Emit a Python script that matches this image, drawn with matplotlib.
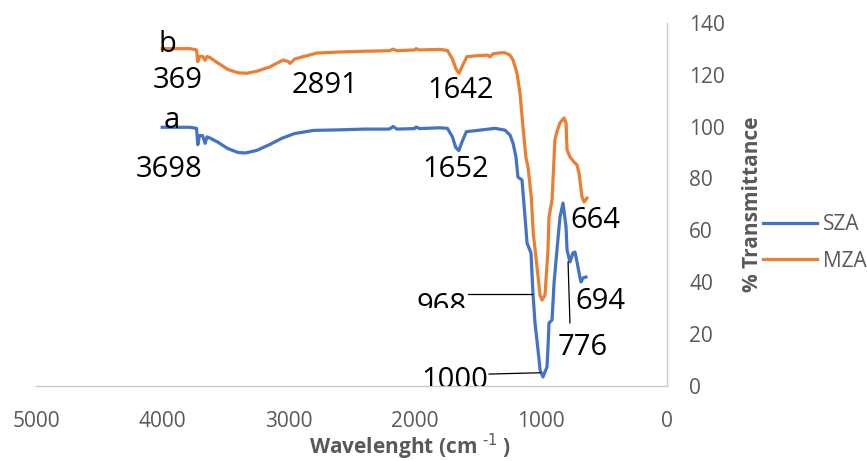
"""FTIR: SZA vs MZA, % transmittance over wavenumber (x axis reversed, y axis on the right)."""
import matplotlib
matplotlib.use("Agg")
import matplotlib.pyplot as plt
from matplotlib.patches import Rectangle

plt.rcParams["font.family"] = ["Open Sans", "DejaVu Sans"]

# --- data ------------------------------------------------------------------
sza_wn = [4000, 3780, 3728, 3718, 3705, 3680, 3660, 3645, 3620, 3560, 3480, 3400, 3340,
          3250, 3150, 3050, 2950, 2800, 2600, 2400, 2200, 2170, 2140, 2000, 1990, 1960,
          1800, 1740, 1700, 1675, 1650, 1625, 1590, 1500, 1363, 1284, 1244, 1220, 1197,
          1181, 1149, 1125, 1109, 1078, 1062, 1046, 1022, 1006, 983, 951, 943, 935, 911,
          895, 872, 848, 824, 800, 792, 769, 745, 729, 713, 689, 681, 666, 642]
sza_t = [99.7, 99.7, 99.3, 93.0, 96.5, 96.5, 93.5, 96.0, 95.5, 94.0, 91.5, 90.0, 89.8,
         90.8, 93.0, 95.5, 97.3, 98.5, 98.7, 99.0, 99.0, 100.0, 99.0, 99.2, 99.8, 99.2,
         99.5, 99.3, 96.0, 92.0, 90.7, 94.0, 98.0, 98.5, 99.3, 98.6, 96.7, 93.6, 88.3,
         80.5, 79.4, 65.1, 55.1, 51.3, 35.8, 24.3, 13.9, 6.2, 3.5, 7.3, 15.0, 24.3, 25.4,
         39.7, 52.4, 65.1, 70.5, 61.3, 52.4, 47.8, 51.3, 51.6, 47.8, 41.6, 40.1, 41.6, 42.0]

mza_wn = [4000, 3780, 3728, 3718, 3705, 3680, 3660, 3645, 3620, 3560, 3480, 3400, 3330,
          3250, 3146, 3043, 3000, 2987, 2950, 2884, 2773, 2600, 2400, 2200, 2170, 2140,
          2000, 1990, 1960, 1800, 1740, 1700, 1670, 1648, 1620, 1585, 1500, 1420, 1402,
          1380, 1323, 1284, 1244, 1220, 1189, 1165, 1141, 1117, 1101, 1075, 1060, 1030,
          1006, 990, 967, 943, 935, 911, 888, 872, 848, 816, 800, 792, 769, 737, 713,
          697, 673, 657, 634]
mza_t = [130.0, 130.0, 129.5, 125.0, 127.0, 127.0, 125.5, 127.0, 126.5, 124.5, 122.0,
         120.7, 120.5, 121.3, 123.0, 125.6, 125.0, 124.3, 126.0, 126.9, 128.3, 128.7,
         129.0, 129.2, 129.8, 129.2, 129.5, 130.0, 129.5, 129.7, 129.3, 126.0, 122.0,
         120.5, 123.5, 126.9, 127.3, 127.5, 126.8, 128.0, 128.4, 128.4, 127.5, 125.6,
         120.6, 112.9, 99.8, 87.8, 84.4, 72.5, 59.0, 45.9, 35.0, 33.1, 35.0, 52.4, 65.1,
         71.7, 94.8, 98.0, 101.4, 103.3, 101.4, 91.0, 88.3, 86.3, 85.2, 82.0, 72.8,
         70.9, 72.4]

series_names = ["SZA", "MZA"]
x_ticks = [5000, 4000, 3000, 2000, 1000, 0]
y_ticks = [0, 20, 40, 60, 80, 100, 120, 140]

# peak labels: text, x, y (baseline)
peak_text = ["b", "369", "2891", "1642", "a", "3698", "1652", "664", "694", "776", "968", "1000"]
peak_x = [3962, 3875, 2710, 1632, 3922, 3946, 1672, 571, 531, 666, 1783, 1680]
peak_y = [128.7, 114.7, 112.8, 110.9, 99.3, 80.7, 80.7, 60.8, 29.6, 11.9, 27.7, -0.6]

# leader lines (x0, x1, y0, y1)
leaders = [((1577, 1070), (35.3, 35.3)),
           ((1410, 1006), (4.6, 5.1)),
           ((784, 769), (47.8, 24.3))]

BLUE, ORANGE, GREY = "#4472C4", "#ED7D31", "#595959"

fig = plt.figure(figsize=(8.67, 4.61), dpi=100)
ax = fig.add_axes([36 / 867, 1 - 386 / 461, 631 / 867, (386 - 22.7) / 461])

ax.plot(sza_wn, sza_t, color=BLUE, lw=2.3, solid_joinstyle="round", label=series_names[0])
ax.plot(mza_wn, mza_t, color=ORANGE, lw=2.3, solid_joinstyle="round", label=series_names[1])

ax.set_xlim(5000, 0)
ax.set_ylim(0, 140)
ax.set_xticks(x_ticks)
ax.set_yticks(y_ticks)
ax.yaxis.tick_right()
ax.tick_params(length=0, labelsize=15, labelcolor=GREY)
ax.tick_params(axis="x", pad=18)
ax.tick_params(axis="y", pad=16)
for side in ("top", "left"):
    ax.spines[side].set_visible(False)
for side in ("bottom", "right"):
    ax.spines[side].set_color("#C8C8C8")
    ax.spines[side].set_linewidth(1)

clip_968 = Rectangle((0, 30), 5000, 110, transform=ax.transData)
for t, x, y in zip(peak_text, peak_x, peak_y):
    txt = ax.text(x, y, t, fontsize=21, ha="center", va="baseline", color="black",
                  clip_on=True)
    if t == "968":
        txt.set_clip_path(clip_968)
for xs, ys in leaders:
    ax.plot(xs, ys, color="black", lw=0.9)

fig.text(752 / 867, 1 - 204 / 461, "% Transmittance", rotation=90, fontsize=15,
         fontweight="bold", color=GREY, ha="center", va="center")
fig.text(410 / 867, 1 - 447 / 461, r"Wavelenght (cm $^{\text{-1}}$ )", fontsize=15,
         fontweight="bold", color=GREY, ha="center", va="center")

ax.legend(loc="upper left", bbox_to_anchor=(763 / 867, 1 - 214 / 461),
          bbox_transform=fig.transFigure, frameon=False, fontsize=15,
          labelcolor=GREY, handlelength=2.6, handletextpad=0.3, labelspacing=0.75,
          borderpad=0, borderaxespad=0)

fig.savefig("out.png", dpi=100)
